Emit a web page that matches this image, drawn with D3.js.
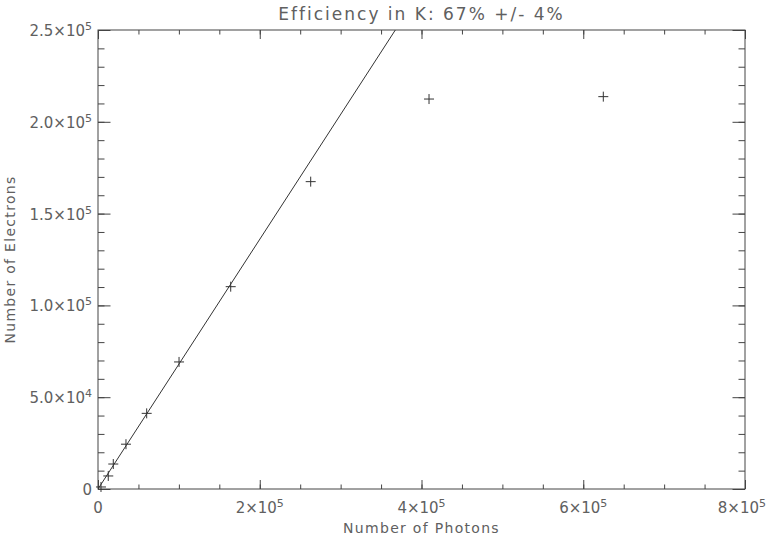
<!DOCTYPE html>
<html>
<head>
<meta charset="utf-8">
<script src="https://cdn.jsdelivr.net/npm/d3@7"></script>
<style>
  html, body { margin: 0; padding: 0; background: #fff; }
  svg { display: block; }
  text { font-family: "DejaVu Sans", sans-serif; fill: #606060; }
</style>
</head>
<body>
<svg id="chart" width="767" height="536"></svg>
<script>
// ---- data ----
const photons   = [3700, 12700, 18900, 34600, 60200, 100200, 164100, 263000, 409300, 624800];
const electrons = [1100, 7100, 13600, 24400, 41200, 69200, 110200, 167400, 212400, 213700];
const fitSlope = 0.68;
const xTickValues = [0, 200000, 400000, 600000, 800000];
const xTickMantissa = ["0", "2", "4", "6", "8"];
const xTickExponent = ["", "5", "5", "5", "5"];
const yTickValues = [0, 50000, 100000, 150000, 200000, 250000];
const yTickMantissa = ["0", "5.0", "1.0", "1.5", "2.0", "2.5"];
const yTickExponent = ["", "4", "5", "5", "5", "5"];
const titleText = "Efficiency in K: 67% +/- 4%";
const xTitle = "Number of Photons";
const yTitle = "Number of Electrons";

// ---- layout ----
const svg = d3.select("#chart");
const L = 98, R = 745, T = 30, B = 489;
const x = d3.scaleLinear().domain([0, 800000]).range([L, R]);
const y = d3.scaleLinear().domain([0, 250000]).range([B, T]);
const axisColor = "#444";

const xMinor = d3.range(0, 800001, 50000);
const yMinor = d3.range(0, 250001, 10000);
const xMajLen = 9, xMinLen = 4.5, yMajLen = 12.5, yMinLen = 6.5;

function styleAxis(g) {
  g.selectAll("path.domain").remove();
  g.selectAll("line").attr("stroke", axisColor).attr("stroke-width", 1);
  g.selectAll("text").remove();
}
function addAxis(gen, tx, ty) {
  svg.append("g").attr("transform", `translate(${tx},${ty})`).call(gen).call(styleAxis);
}
// bottom axis: ticks pointing up (inward)
addAxis(d3.axisBottom(x).tickValues(xMinor).tickSizeInner(-xMinLen).tickSizeOuter(0), 0, B);
addAxis(d3.axisBottom(x).tickValues(xTickValues).tickSizeInner(-xMajLen).tickSizeOuter(0), 0, B);
// top axis: ticks pointing down
addAxis(d3.axisTop(x).tickValues(xMinor).tickSizeInner(-xMinLen).tickSizeOuter(0), 0, T);
addAxis(d3.axisTop(x).tickValues(xTickValues).tickSizeInner(-xMajLen).tickSizeOuter(0), 0, T);
// left axis: ticks pointing right
addAxis(d3.axisLeft(y).tickValues(yMinor).tickSizeInner(-yMinLen).tickSizeOuter(0), L, 0);
addAxis(d3.axisLeft(y).tickValues(yTickValues).tickSizeInner(-yMajLen).tickSizeOuter(0), L, 0);
// right axis: ticks pointing left
addAxis(d3.axisRight(y).tickValues(yMinor).tickSizeInner(-yMinLen).tickSizeOuter(0), R, 0);
addAxis(d3.axisRight(y).tickValues(yTickValues).tickSizeInner(-yMajLen).tickSizeOuter(0), R, 0);

// frame
svg.append("rect").attr("x", L).attr("y", T).attr("width", R - L).attr("height", B - T)
  .attr("fill", "none").attr("stroke", axisColor).attr("stroke-width", 1);

// tick labels
function label(sel, mant, exp) {
  sel.append("tspan").text(mant === "0" || exp === "" ? mant : mant + "×10");
  if (exp !== "") sel.append("tspan").attr("dy", -6).attr("font-size", 11).text(exp);
}
xTickValues.forEach((v, i) => {
  const last = i === xTickValues.length - 1;
  const t = svg.append("text").attr("x", last ? 766 : x(v)).attr("y", 513)
    .attr("text-anchor", last ? "end" : "middle").attr("font-size", 15);
  label(t, xTickMantissa[i], xTickExponent[i]);
});
yTickValues.forEach((v, i) => {
  const t = svg.append("text").attr("x", 92).attr("y", y(v) + 6)
    .attr("text-anchor", "end").attr("font-size", 15);
  label(t, yTickMantissa[i], yTickExponent[i]);
});

// titles
svg.append("text").attr("x", (L + R) / 2).attr("y", 20).attr("text-anchor", "middle")
  .attr("font-size", 17).attr("letter-spacing", 2).text(titleText);
svg.append("text").attr("x", (L + R) / 2).attr("y", 533).attr("text-anchor", "middle")
  .attr("font-size", 14).attr("letter-spacing", 1.3).text(xTitle);
svg.append("text").attr("transform", `translate(15,${(T + B) / 2}) rotate(-90)`)
  .attr("text-anchor", "middle").attr("font-size", 14).attr("letter-spacing", 1.3).text(yTitle);

// fit line, clipped to plot
svg.append("clipPath").attr("id", "clip").append("rect")
  .attr("x", L).attr("y", T).attr("width", R - L).attr("height", B - T);
const xEnd = 250000 / fitSlope;
svg.append("path")
  .attr("clip-path", "url(#clip)")
  .attr("d", d3.line()([[x(0), y(0)], [x(xEnd), y(xEnd * fitSlope)]]))
  .attr("stroke", "#333").attr("stroke-width", 1).attr("fill", "none");

// crosses
const arm = 5;
const pts = photons.map((p, i) => [p, electrons[i]]);
const g = svg.append("g").attr("stroke", "#333").attr("stroke-width", 1);
pts.forEach(([px, py]) => {
  const cx = x(px), cy = y(py);
  g.append("line").attr("x1", cx - arm).attr("x2", cx + arm).attr("y1", cy).attr("y2", cy);
  g.append("line").attr("x1", cx).attr("x2", cx).attr("y1", cy - arm).attr("y2", cy + arm);
});
</script>
</body>
</html>
